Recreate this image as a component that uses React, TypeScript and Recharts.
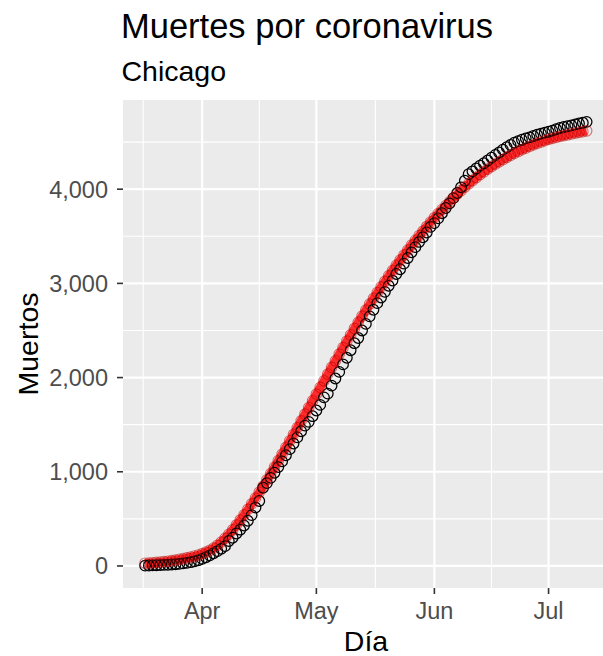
import { ComposedChart, Scatter, Line, XAxis, YAxis, CartesianGrid } from 'recharts';

// Daily series starts on Mar 17 (day 16 counted from Mar 1)
const firstDay = 16;

// Cumulative deaths reported per day
const deaths = [
  4, 5, 6, 8, 9, 11, 13, 15, 18, 22, 27, 33, 40, 49, 60,
  75, 92, 112, 135, 158, 182, 210, 265, 300, 345, 385, 430, 480, 540, 620,
  690, 830, 880, 935, 990, 1050, 1110, 1175, 1240, 1300, 1365, 1430, 1490, 1530, 1590,
  1650, 1710, 1790, 1830, 1915, 1990, 2060, 2140, 2210, 2290, 2365, 2420, 2500, 2570, 2650,
  2720, 2790, 2850, 2910, 2975, 3030, 3100, 3150, 3210, 3270, 3330, 3385, 3440, 3490, 3540, 3600,
  3640, 3690, 3745, 3800, 3850, 3905, 3960, 4020, 4090, 4160, 4190, 4220, 4250, 4275, 4305,
  4335, 4365, 4390, 4420, 4445, 4470, 4495, 4510, 4525, 4540, 4550, 4565, 4578, 4590, 4600,
  4610, 4622, 4636, 4650, 4660, 4668, 4678, 4688, 4697, 4705, 4715,
];

// Fitted curve, same days
const fitted = [
  29, 31, 34, 37, 41, 45, 50, 56, 63, 70, 78, 86, 95, 105, 116,
  130, 146, 166, 190, 218, 252, 292, 336, 384, 435, 488, 543, 600, 659, 720,
  783, 848, 914, 981, 1049, 1118, 1188, 1258, 1328, 1398, 1469, 1540, 1611, 1682, 1753,
  1824, 1895, 1966, 2037, 2108, 2178, 2248, 2317, 2386, 2454, 2521, 2587, 2652, 2716, 2779,
  2841, 2902, 2962, 3021, 3079, 3136, 3192, 3247, 3301, 3354, 3406, 3457, 3507, 3556, 3604, 3651,
  3697, 3741, 3784, 3826, 3866, 3907, 3947, 3985, 4022, 4057, 4091, 4123, 4154, 4184, 4212,
  4239, 4265, 4290, 4314, 4337, 4359, 4380, 4400, 4419, 4437, 4454, 4470, 4486, 4501, 4515,
  4529, 4540, 4550, 4560, 4569, 4578, 4587, 4596, 4604, 4612, 4620,
];

const monthTicks = [31, 61, 92, 122];
const monthLabels = ['Apr', 'May', 'Jun', 'Jul'];
const monthMinor = [15.5, 46, 76.5, 107];
const yTicks = [0, 1000, 2000, 3000, 4000];
const yMinor = [500, 1500, 2500, 3500, 4500];

const observed = deaths.map((d, i) => ({ day: firstDay + i, value: d }));
const fitCurve = fitted.map((f, i) => ({ day: firstDay + i, value: f }));

const FONT = '"Liberation Sans", Arial, Helvetica, sans-serif';

function OpenCircle(props: any) {
  const { cx, cy } = props;
  if (cx == null || cy == null) return null;
  return <circle cx={cx} cy={cy} r={5.3} fill="none" stroke="#000000" strokeWidth={1.25} />;
}

function FitCircle(props: any) {
  const { cx, cy } = props;
  if (cx == null || cy == null) return null;
  return <circle cx={cx} cy={cy} r={5.3} fill="none" stroke="#C00000" strokeWidth={1.1} strokeOpacity={0.55} />;
}

const fmtThousands = (v: number) => v.toLocaleString('en-US');
const fmtMonth = (v: number) => monthLabels[monthTicks.indexOf(v)] ?? '';

export default function App() {
  return (
    <div style={{ position: 'absolute', left: 0, top: 0, width: 603, height: 656, background: '#FFFFFF', overflow: 'hidden', fontFamily: FONT }}>
      <ComposedChart width={603} height={656} margin={{ top: 100, right: 0, bottom: 0, left: 0 }}>
        <CartesianGrid
          fill="#EBEBEB"
          stroke="#FFFFFF"
          strokeWidth={1.1}
          horizontalValues={yMinor}
          verticalValues={monthMinor}
        />
        <CartesianGrid
          stroke="#FFFFFF"
          strokeWidth={2.2}
          horizontalValues={yTicks}
          verticalValues={monthTicks}
        />
        <XAxis
          type="number"
          dataKey="day"
          domain={[10.2, 136.3]}
          allowDataOverflow
          ticks={monthTicks}
          interval={0}
          tickFormatter={fmtMonth}
          height={68}
          tickSize={6}
          tickMargin={8}
          axisLine={false}
          tickLine={{ stroke: '#333333', strokeWidth: 1.6 }}
          tick={{ fill: '#4D4D4D', fontSize: 23.5, fontFamily: FONT }}
        />
        <YAxis
          type="number"
          dataKey="value"
          domain={[-234, 4947]}
          allowDataOverflow
          ticks={yTicks}
          interval={0}
          tickFormatter={fmtThousands}
          width={123}
          tickSize={6}
          tickMargin={9}
          axisLine={false}
          tickLine={{ stroke: '#333333', strokeWidth: 1.6 }}
          tick={{ fill: '#4D4D4D', fontSize: 23.5, fontFamily: FONT }}
        />
        <Scatter data={observed} dataKey="value" shape={OpenCircle} isAnimationActive={false} />
        <Line
          data={fitCurve}
          dataKey="value"
          type="linear"
          stroke="#FF1A1A"
          strokeWidth={8.5}
          strokeOpacity={0.92}
          dot={false}
          activeDot={false}
          isAnimationActive={false}
        />
        <Scatter data={fitCurve} dataKey="value" shape={FitCircle} isAnimationActive={false} />
      </ComposedChart>
      <svg width={603} height={656} style={{ position: 'absolute', left: 0, top: 0, pointerEvents: 'none' }}>
        <text x={121} y={37.5} fontSize={34.5} fill="#000000" fontFamily={FONT}>Muertes por coronavirus</text>
        <text x={121.5} y={80.5} fontSize={28.5} fill="#000000" fontFamily={FONT}>Chicago</text>
        <text x={366} y={650.7} fontSize={28.5} fill="#000000" fontFamily={FONT} textAnchor="middle">Día</text>
        <text
          x={38}
          y={344}
          fontSize={28.5}
          fill="#000000"
          fontFamily={FONT}
          textAnchor="middle"
          transform="rotate(-90 38 344)"
        >
          Muertos
        </text>
      </svg>
    </div>
  );
}
